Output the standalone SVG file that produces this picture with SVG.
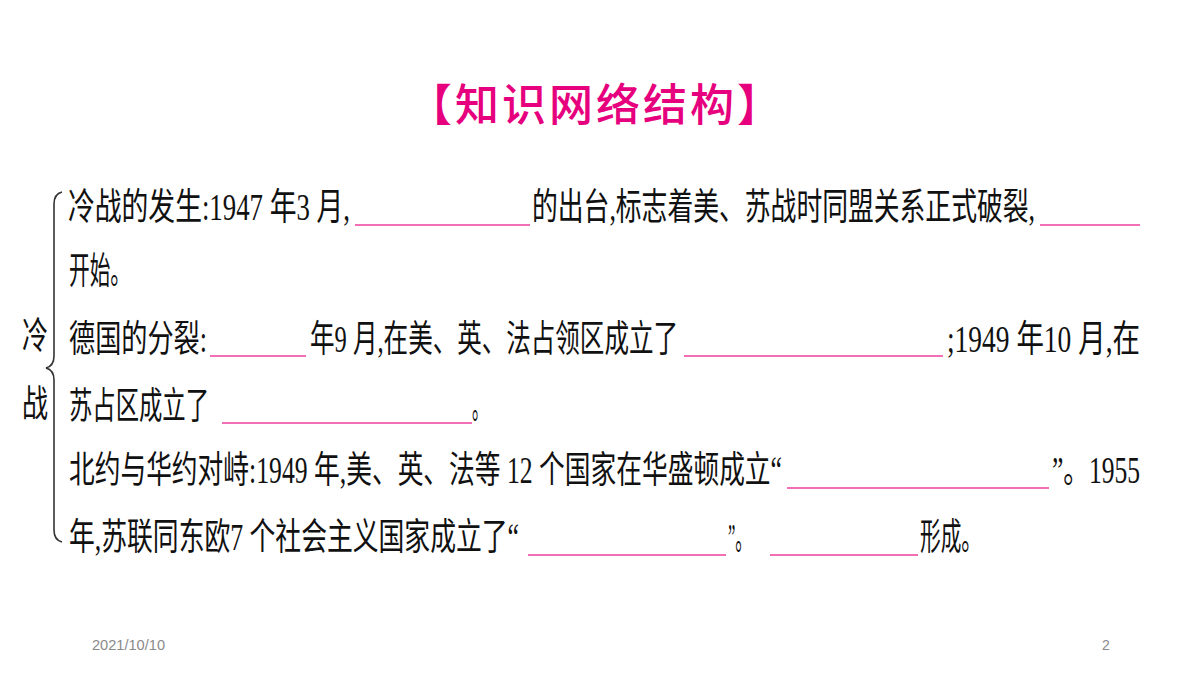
<svg xmlns="http://www.w3.org/2000/svg" width="1200" height="675" viewBox="0 0 1200 675">
<style>
.t{font-family:"Liberation Serif","Noto Sans CJK SC",serif;font-size:37px;fill:#111;}
.ttl{font-family:"Noto Sans CJK SC","Noto Sans",sans-serif;font-size:44px;font-weight:500;fill:#E6007E;letter-spacing:3px;}
.u{stroke:#EE3F9E;stroke-width:1.6;fill:none;}
.ft{font-family:"Liberation Sans",sans-serif;font-size:14px;fill:#8a8a8a;}
.br{stroke:#333;stroke-width:1.6;fill:none;}
</style>
<rect width="1200" height="675" fill="#fff"/>
<g id="title"><text class="ttl" x="596" y="121" text-anchor="middle">【知识网络结构】</text></g>
<g id="label" transform="scale(0.62,1)">
<text class="t" x="35.48" y="349" textLength="41.94" lengthAdjust="spacingAndGlyphs">冷</text>
<text class="t" x="35.48" y="417" textLength="41.94" lengthAdjust="spacingAndGlyphs">战</text>
</g>
<g id="connectors">
<path class="br" d="M62,192 Q54,194 54,204 L54,356 Q54,366 46,368 Q54,370 54,380 L54,530 Q54,540 62,542"/>
</g>
<g id="blanks">
<line class="u" x1="355" y1="225" x2="530" y2="225"/>
<line class="u" x1="1040" y1="225" x2="1140" y2="225"/>
<line class="u" x1="210" y1="356" x2="306" y2="356"/>
<line class="u" x1="684" y1="356" x2="943" y2="356"/>
<line class="u" x1="222" y1="423" x2="472" y2="423"/>
<line class="u" x1="787" y1="488" x2="1049" y2="488"/>
<line class="u" x1="528" y1="555" x2="726" y2="555"/>
<line class="u" x1="770" y1="555" x2="918" y2="555"/>
</g>
<g id="body" transform="scale(0.62,1)">
<g id="line1">
<text class="t" x="109.68" y="220" textLength="454.84" lengthAdjust="spacingAndGlyphs">冷战的发生:1947 年3 月,</text>
<text class="t" x="858.06" y="220" textLength="811.29" lengthAdjust="spacingAndGlyphs">的出台,标志着美、苏战时同盟关系正式破裂,</text>
</g>
<g id="line2">
<text class="t" x="111.29" y="284" textLength="100" lengthAdjust="spacingAndGlyphs">开始。</text>
</g>
<g id="line3">
<text class="t" x="111.29" y="352" textLength="222.58" lengthAdjust="spacingAndGlyphs">德国的分裂:</text>
<text class="t" x="500" y="352" textLength="593.55" lengthAdjust="spacingAndGlyphs">年9 月,在美、英、法占领区成立了</text>
<text class="t" x="1527.42" y="352" textLength="311.29" lengthAdjust="spacingAndGlyphs">;1949 年10 月,在</text>
</g>
<g id="line4">
<text class="t" x="111.29" y="419" textLength="225.81" lengthAdjust="spacingAndGlyphs">苏占区成立了</text>
<text class="t" x="761.29" y="419" textLength="25.81" lengthAdjust="spacingAndGlyphs">。</text>
</g>
<g id="line5">
<text class="t" x="111.29" y="483" textLength="1150" lengthAdjust="spacingAndGlyphs">北约与华约对峙:1949 年,美、英、法等 12 个国家在华盛顿成立“</text>
<text class="t" x="1696.77" y="483" textLength="141.94" lengthAdjust="spacingAndGlyphs">”。1955</text>
</g>
<g id="line6">
<text class="t" x="111.29" y="550" textLength="725.81" lengthAdjust="spacingAndGlyphs">年,苏联同东欧7 个社会主义国家成立了“</text>
<text class="t" x="1174.19" y="550" textLength="38.71" lengthAdjust="spacingAndGlyphs">”。</text>
<text class="t" x="1483.87" y="550" textLength="100" lengthAdjust="spacingAndGlyphs">形成。</text>
</g>
</g>
<g id="footer">
<text class="ft" x="92" y="650" textLength="73" lengthAdjust="spacingAndGlyphs">2021/10/10</text>
<text class="ft" x="1102" y="650">2</text>
</g>
</svg>
